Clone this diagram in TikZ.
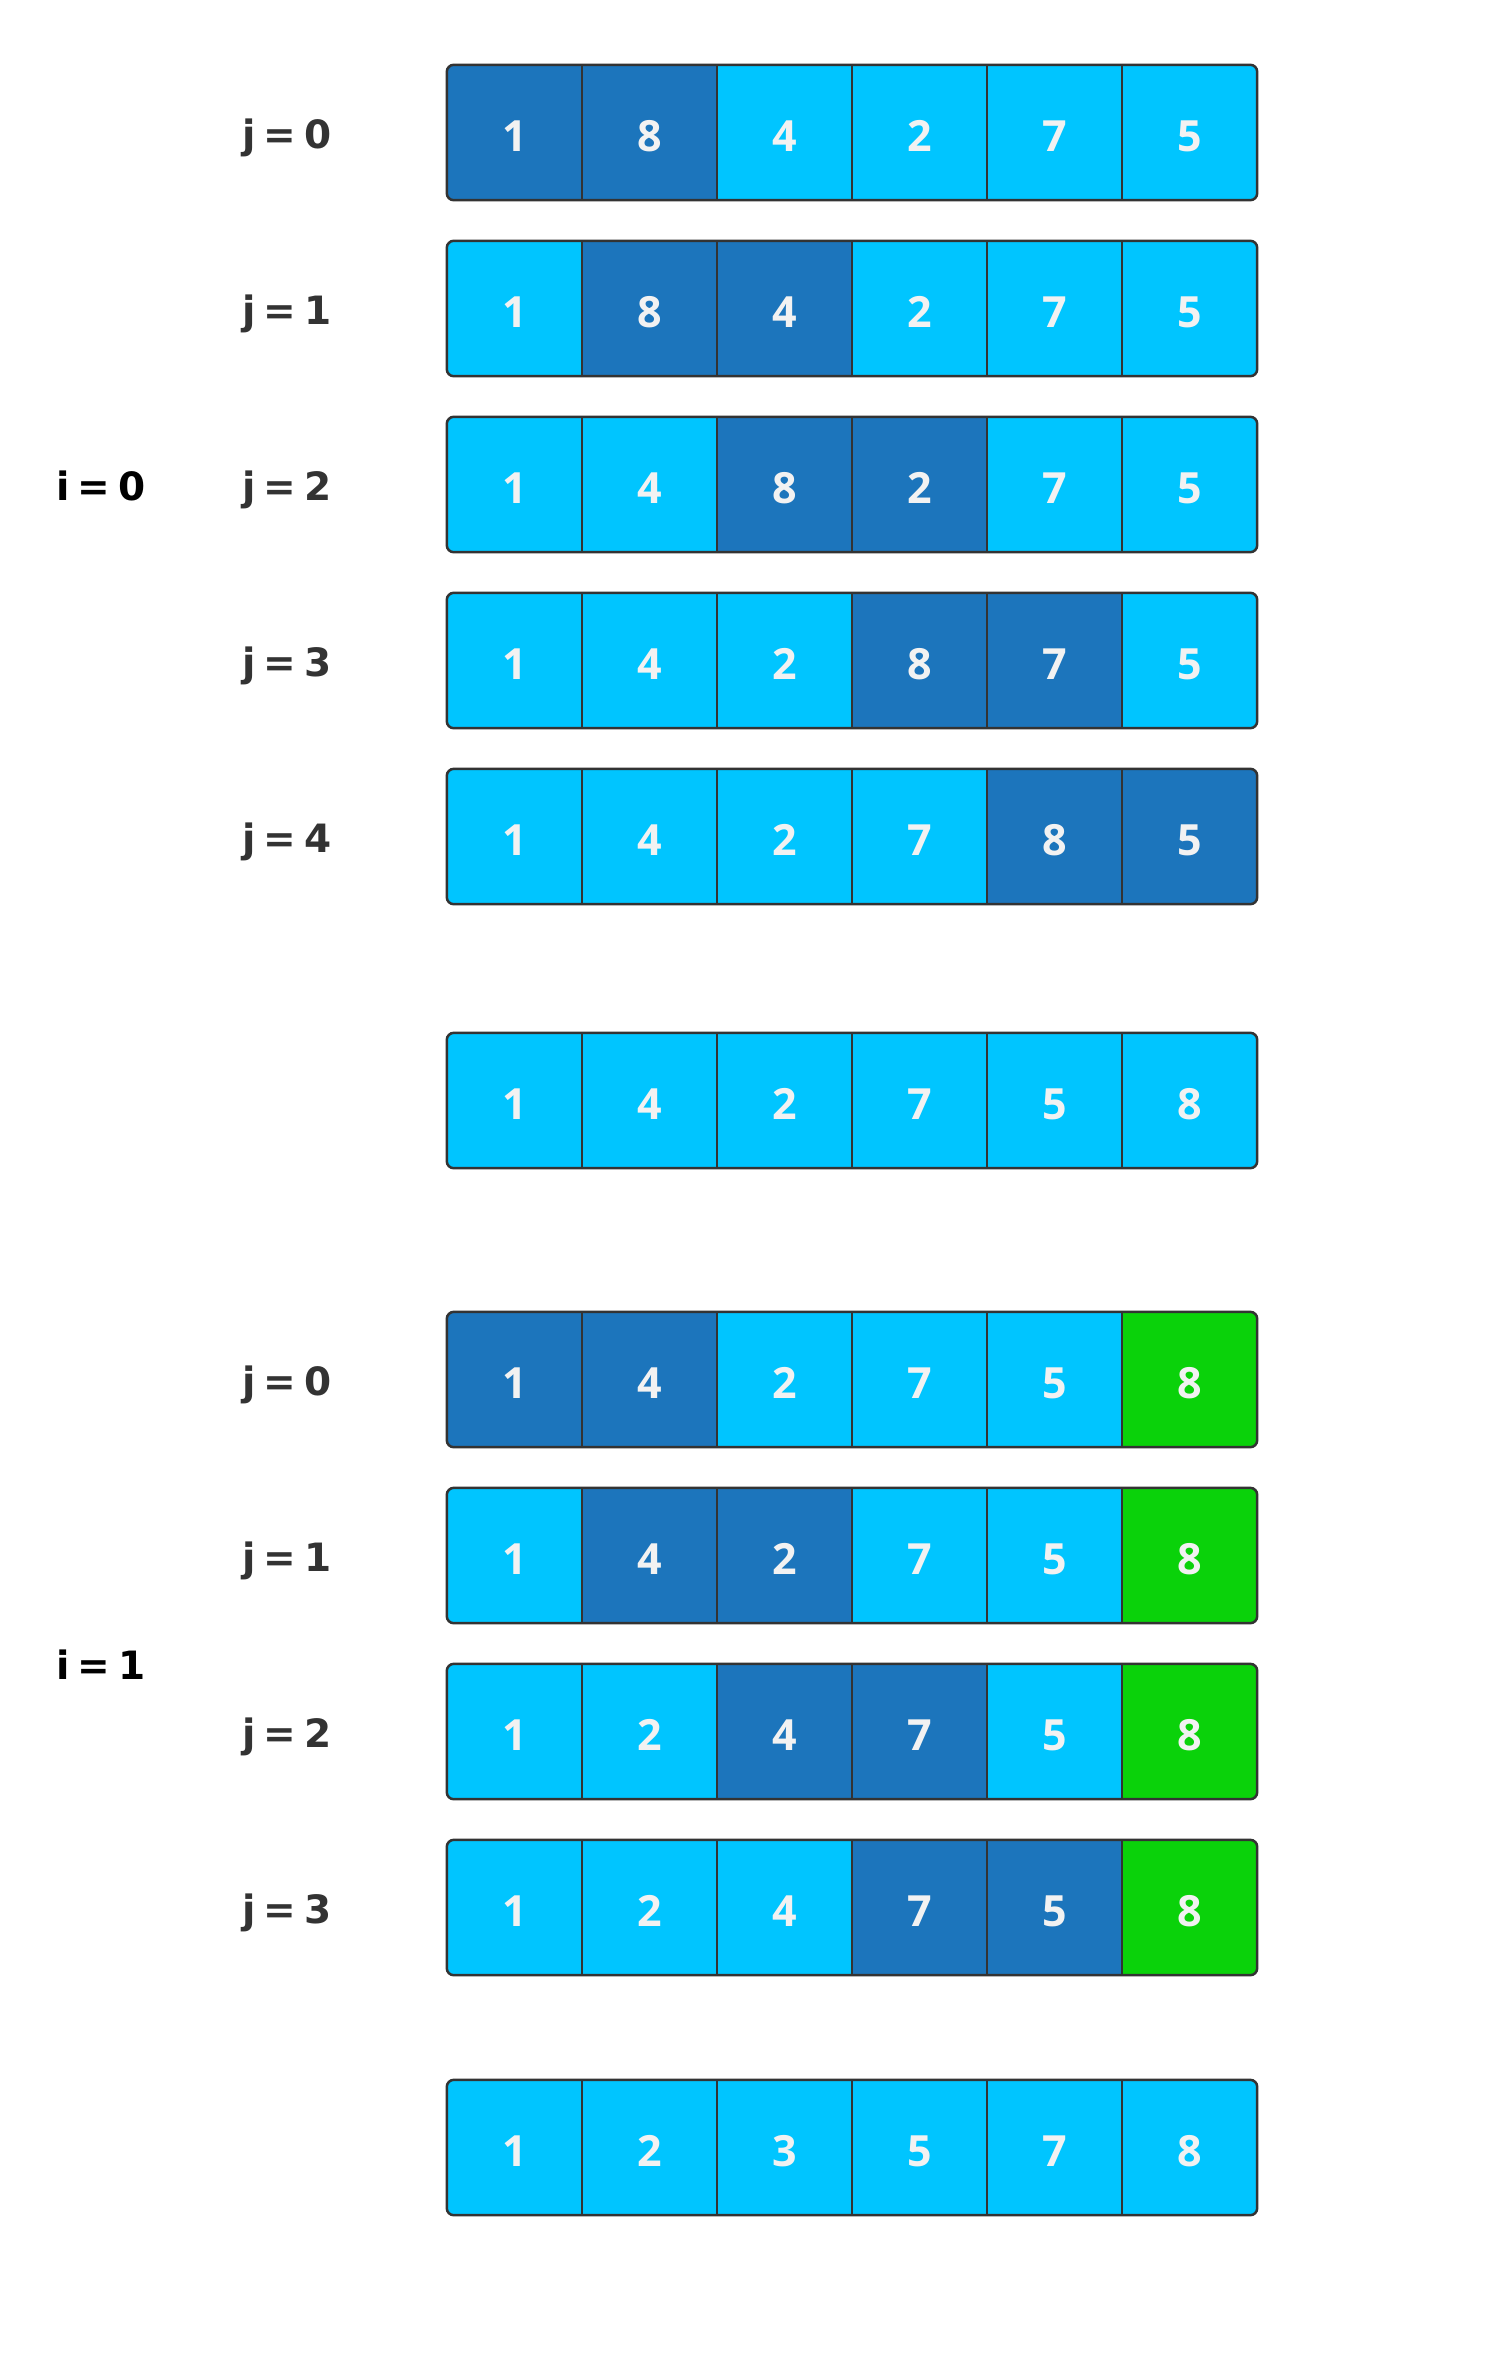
\documentclass[tikz,border=0pt]{standalone}
\usepackage{fontspec}
\setmainfont{Open Sans}
\newfontfamily\labfont{DejaVu Sans}
\definecolor{cD}{HTML}{1C75BC}
\definecolor{cL}{HTML}{00C5FF}
\definecolor{cG}{HTML}{0AD20A}
\definecolor{edgecol}{HTML}{333333}
\definecolor{digitcol}{HTML}{F2F2F2}
\newcommand{\eqlab}[2]{#1\hspace{0.2em}=\hspace{0.2em}#2}
\tikzset{
  cell/.style={minimum width=135pt, minimum height=135pt, inner sep=0pt, draw=none,
    text=digitcol, font=\fontsize{43}{43}\selectfont\bfseries},
  divider/.style={draw=edgecol, line width=2.2pt},
  rowframe/.style={draw=edgecol, line width=2.5pt, rounded corners=7pt},
  jlab/.style={anchor=base, text=edgecol, font=\labfont\fontsize{39}{39}\selectfont\bfseries},
  ilab/.style={anchor=base, text=black, font=\labfont\fontsize{39}{39}\selectfont\bfseries}
}
\begin{document}
\begin{tikzpicture}[x=1pt,y=-1pt]
\useasboundingbox (0,0) rectangle (1500,2362);
\fill[white] (0,0) rectangle (1500,2362);
\foreach \top/\cells [count=\n] in {
  65/{1/D,8/D,4/L,2/L,7/L,5/L},
  241/{1/L,8/D,4/D,2/L,7/L,5/L},
  417/{1/L,4/L,8/D,2/D,7/L,5/L},
  593/{1/L,4/L,2/L,8/D,7/D,5/L},
  769/{1/L,4/L,2/L,7/L,8/D,5/D},
  1033/{1/L,4/L,2/L,7/L,5/L,8/L},
  1312/{1/D,4/D,2/L,7/L,5/L,8/G},
  1488/{1/L,4/D,2/D,7/L,5/L,8/G},
  1664/{1/L,2/L,4/D,7/D,5/L,8/G},
  1840/{1/L,2/L,4/L,7/D,5/D,8/G},
  2080/{1/L,2/L,3/L,5/L,7/L,8/L}}
{
  \begin{scope}
    \clip[rounded corners=7pt] (447,\top) rectangle (1257,\top+135);
    \foreach \v/\c [count=\k from 0] in \cells {
      \node[cell, fill=c\c] (r\n c\k) at ({514.5+135*\k}, \top+67.5) {\raisebox{-4pt}[30.7pt][0pt]{\v}};
    }
  \end{scope}
  \foreach \k in {1,...,5} {
    \draw[divider] (r\n c\k.north west) -- (r\n c\k.south west);
  }
  \draw[rowframe] (r\n c0.north west) rectangle (r\n c5.south east);
}
% j labels
\node[jlab] (j00) at (287, 148.5) {\eqlab{j}{0}};
\node[jlab] (j01) at (287, 324.5) {\eqlab{j}{1}};
\node[jlab] (j02) at (287, 500.5) {\eqlab{j}{2}};
\node[jlab] (j03) at (287, 676.5) {\eqlab{j}{3}};
\node[jlab] (j04) at (287, 852.5) {\eqlab{j}{4}};
\node[jlab] (j10) at (287, 1395.5) {\eqlab{j}{0}};
\node[jlab] (j11) at (287, 1571.5) {\eqlab{j}{1}};
\node[jlab] (j12) at (287, 1747.5) {\eqlab{j}{2}};
\node[jlab] (j13) at (287, 1923.5) {\eqlab{j}{3}};
% i labels
\node[ilab] (i0) at (101, 500.5) {\eqlab{i}{0}};
\node[ilab] (i1) at (101, 1679) {\eqlab{i}{1}};
\end{tikzpicture}
\end{document}
